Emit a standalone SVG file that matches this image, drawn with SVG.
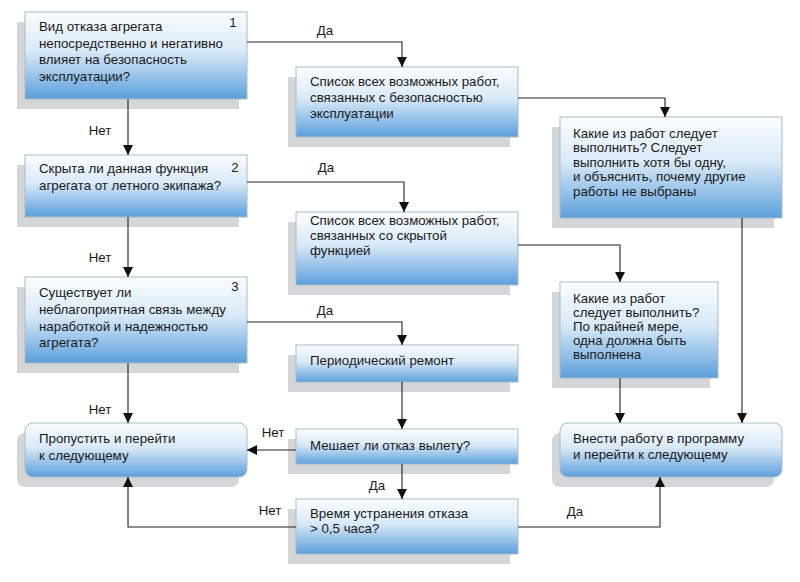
<svg xmlns="http://www.w3.org/2000/svg" width="800" height="582" viewBox="0 0 800 582">
<defs>
<linearGradient id="g" x1="0" y1="0" x2="0" y2="1">
<stop offset="0" stop-color="#fbfdff"/>
<stop offset="0.45" stop-color="#d9e9f7"/>
<stop offset="1" stop-color="#5c9fdc"/>
</linearGradient>
<marker id="a" markerUnits="userSpaceOnUse" markerWidth="10" markerHeight="10" refX="10" refY="5" orient="auto">
<path d="M0,0 L10,5 L0,10 z" fill="#111"/>
</marker>
<style>
.sh{fill:#d4d6d8}
.bx{fill:url(#g);stroke:#a9bccb;stroke-width:1}
text{font-family:"Liberation Sans",Arial,sans-serif;font-size:13.3px;fill:#1a1a1a}
.c{fill:none;stroke:#222;stroke-width:1.1;marker-end:url(#a)}
.l{text-anchor:middle}
</style>
</defs>
<rect width="800" height="582" fill="#fff"/>
<g id="n1">
<rect class="sh" x="17" y="22" width="222" height="87"/>
<rect class="bx" x="25" y="12" width="222" height="87"/>
<text x="39" y="31">Вид отказа агрегата</text>
<text x="39" y="48">непосредственно и негативно</text>
<text x="39" y="64">влияет на безопасность</text>
<text x="39" y="81">эксплуатации?</text>
<text x="233" y="27" class="l">1</text>
</g>
<g id="n2">
<rect class="sh" x="288" y="77" width="222" height="70"/>
<rect class="bx" x="296" y="67" width="222" height="70"/>
<text x="310" y="86">Список всех возможных работ,</text>
<text x="310" y="102">связанных с безопасностью</text>
<text x="310" y="118">эксплуатации</text>
</g>
<g id="n3">
<rect class="sh" x="552" y="127" width="222" height="101"/>
<rect class="bx" x="560" y="117" width="222" height="101"/>
<text x="573" y="138">Какие из работ следует</text>
<text x="573" y="152">выполнить? Следует</text>
<text x="573" y="167">выполнить хотя бы одну,</text>
<text x="573" y="181">и объяснить, почему другие</text>
<text x="573" y="196">работы не выбраны</text>
</g>
<g id="n4">
<rect class="sh" x="17" y="165" width="222" height="62"/>
<rect class="bx" x="25" y="155" width="222" height="62"/>
<text x="39" y="173">Скрыта ли данная функция</text>
<text x="39" y="190">агрегата от летного экипажа?</text>
<text x="235" y="172" class="l">2</text>
</g>
<g id="n5">
<rect class="sh" x="288" y="222" width="222" height="73"/>
<rect class="bx" x="296" y="212" width="222" height="73"/>
<text x="310" y="225">Список всех возможных работ,</text>
<text x="310" y="240">связанных со скрытой</text>
<text x="310" y="255">функцией</text>
</g>
<g id="n6">
<rect class="sh" x="552" y="292" width="158" height="96"/>
<rect class="bx" x="560" y="282" width="158" height="96"/>
<text x="573" y="303">Какие из работ</text>
<text x="573" y="317">следует выполнить?</text>
<text x="573" y="331">По крайней мере,</text>
<text x="573" y="345">одна должна быть</text>
<text x="573" y="359">выполнена</text>
</g>
<g id="n7">
<rect class="sh" x="17" y="287" width="222" height="86"/>
<rect class="bx" x="25" y="277" width="222" height="86"/>
<text x="39" y="297">Существует ли</text>
<text x="39" y="314">неблагоприятная связь между</text>
<text x="39" y="331">наработкой и надежностью</text>
<text x="39" y="347">агрегата?</text>
<text x="235" y="291" class="l">3</text>
</g>
<g id="n8">
<rect class="sh" x="288" y="355" width="222" height="37"/>
<rect class="bx" x="296" y="345" width="222" height="37"/>
<text x="310" y="365">Периодический ремонт</text>
</g>
<g id="n9">
<rect class="sh" x="17" y="433" width="222" height="54" rx="8"/>
<rect class="bx" x="25" y="423" width="222" height="54" rx="8"/>
<text x="39" y="443">Пропустить и перейти</text>
<text x="39" y="460">к следующему</text>
</g>
<g id="n10">
<rect class="sh" x="288" y="439" width="222" height="35"/>
<rect class="bx" x="296" y="429" width="222" height="35"/>
<text x="310" y="450">Мешает ли отказ вылету?</text>
</g>
<g id="n11">
<rect class="sh" x="288" y="509" width="222" height="55"/>
<rect class="bx" x="296" y="499" width="222" height="55"/>
<text x="310" y="518">Время устранения отказа</text>
<text x="310" y="533">&gt; 0,5 часа?</text>
</g>
<g id="n12">
<rect class="sh" x="552" y="433" width="222" height="54" rx="8"/>
<rect class="bx" x="560" y="423" width="222" height="54" rx="8"/>
<text x="573" y="443">Внести работу в программу</text>
<text x="573" y="459">и перейти к следующему</text>
</g>
<g id="connectors">
<path class="c" d="M247,42 H402 V67"/>
<path class="c" d="M128,99 V155"/>
<path class="c" d="M518,98 H665 V117"/>
<path class="c" d="M742,218 V423"/>
<path class="c" d="M247,182 H404 V212"/>
<path class="c" d="M128,217 V277"/>
<path class="c" d="M518,245 H620 V282"/>
<path class="c" d="M620,378 V423"/>
<path class="c" d="M247,322 H402 V345"/>
<path class="c" d="M128,363 V423"/>
<path class="c" d="M402,382 V429"/>
<path class="c" d="M296,450 H247"/>
<path class="c" d="M402,464 V499"/>
<path class="c" d="M296,527 H128 V477"/>
<path class="c" d="M518,527 H660 V477"/>
<text x="325" y="35" class="l">Да</text>
<text x="100" y="135" class="l">Нет</text>
<text x="326" y="172" class="l">Да</text>
<text x="100" y="262" class="l">Нет</text>
<text x="325" y="315" class="l">Да</text>
<text x="100" y="414" class="l">Нет</text>
<text x="273" y="437" class="l">Нет</text>
<text x="377" y="490" class="l">Да</text>
<text x="270" y="515" class="l">Нет</text>
<text x="575" y="516" class="l">Да</text>
</g>
</svg>
